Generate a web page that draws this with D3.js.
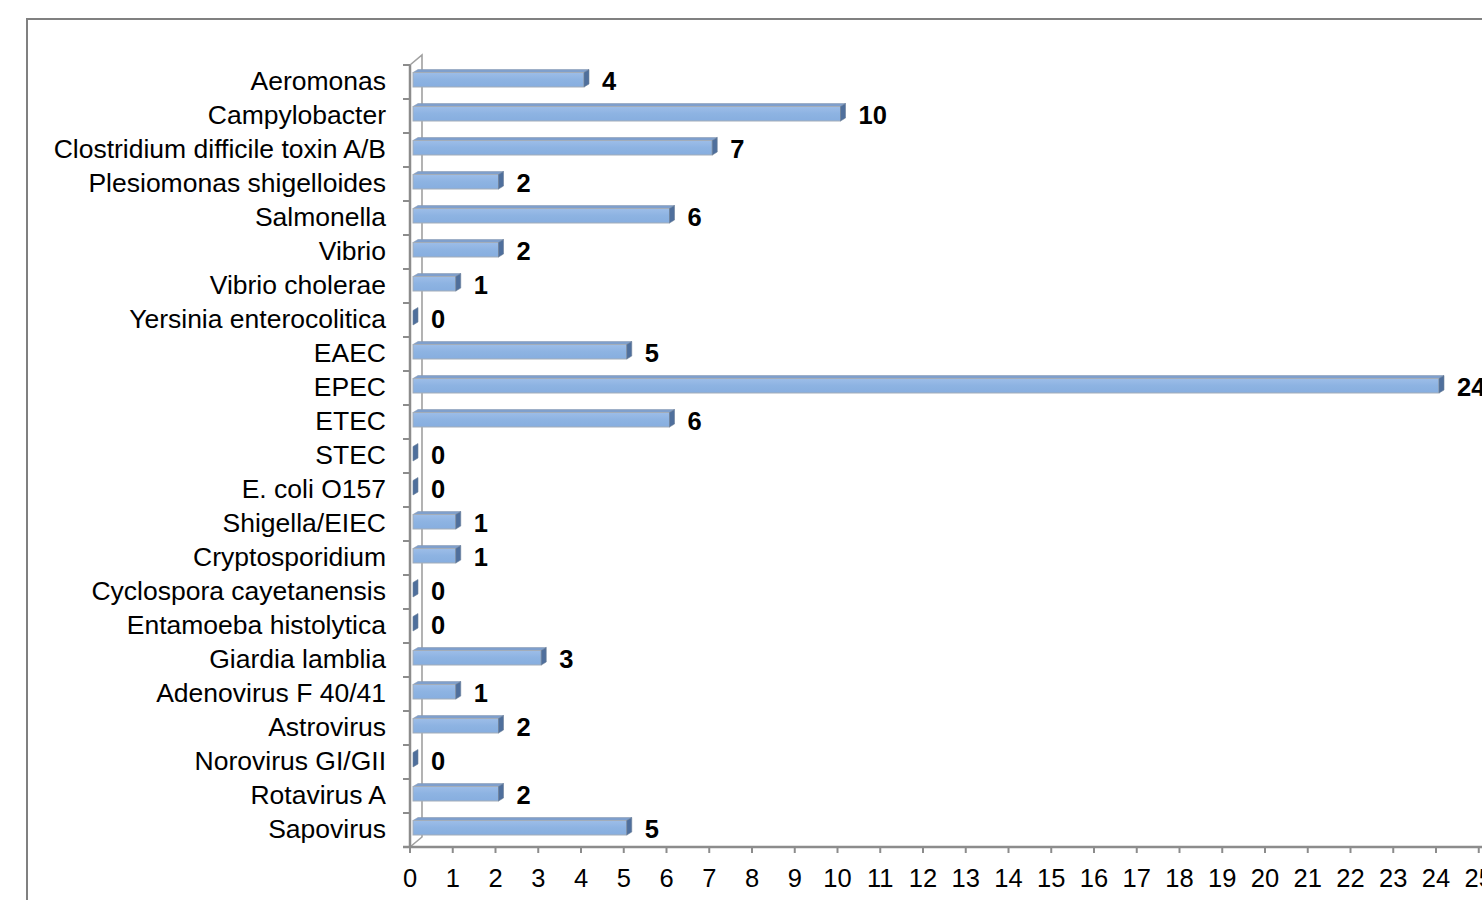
<!DOCTYPE html>
<html>
<head>
<meta charset="utf-8">
<script src="https://cdn.jsdelivr.net/npm/d3@7"></script>
<style>
  html, body { margin: 0; padding: 0; background: #fff; }
  svg { display: block; }
  text { font-family: "Liberation Sans", Arial, sans-serif; fill: #000; }
</style>
</head>
<body>
<svg id="chart" width="1482" height="900"></svg>
<script>
const categories = [
  "Aeromonas", "Campylobacter", "Clostridium difficile toxin A/B",
  "Plesiomonas shigelloides", "Salmonella", "Vibrio", "Vibrio cholerae",
  "Yersinia enterocolitica", "EAEC", "EPEC", "ETEC", "STEC", "E. coli O157",
  "Shigella/EIEC", "Cryptosporidium", "Cyclospora cayetanensis",
  "Entamoeba histolytica", "Giardia lamblia", "Adenovirus F 40/41",
  "Astrovirus", "Norovirus GI/GII", "Rotavirus A", "Sapovirus"
];
const values = [4, 10, 7, 2, 6, 2, 1, 0, 5, 24, 6, 0, 0, 1, 1, 0, 0, 3, 1, 2, 0, 2, 5];
const xTicks = d3.range(0, 26);

const svg = d3.select("#chart");
const W = 1482, H = 900;

// Outer frame (only top and left edges visible)
svg.append("path")
  .attr("d", `M27,${H} L27,19 L${W},19`)
  .attr("fill", "none").attr("stroke", "#808080").attr("stroke-width", 2);

const x = d3.scaleLinear().domain([0, 25]).range([410, 1478.75]);
const y = d3.scaleBand().domain(categories).range([65, 847]).padding(0);
const depthX = 12, depthY = 10;

const defs = svg.append("defs");
const grad = defs.append("linearGradient").attr("id", "barGrad")
  .attr("x1", 0).attr("y1", 0).attr("x2", 0).attr("y2", 1);
grad.append("stop").attr("offset", "0%").attr("stop-color", "#9dbde8");
grad.append("stop").attr("offset", "50%").attr("stop-color", "#8db3e2");
grad.append("stop").attr("offset", "100%").attr("stop-color", "#87aedf");

const axisColor = "#8c8c8c";
const x0 = x(0), yTop = y.range()[0], yBot = y.range()[1];

// Back wall vertical line and diagonals
svg.append("path")
  .attr("d", `M${x0},${yTop} L${x0 + depthX},${yTop - depthY} L${x0 + depthX},${yBot - depthY} L${x0},${yBot}`)
  .attr("fill", "none").attr("stroke", "#a0a0a0").attr("stroke-width", 1.6);

// Vertical axis (front)
svg.append("line")
  .attr("x1", x0).attr("x2", x0).attr("y1", yTop).attr("y2", yBot)
  .attr("stroke", axisColor).attr("stroke-width", 2.5);
// Category tick marks
const yBounds = categories.map(c => y(c)).concat([yBot]);
svg.append("g").selectAll("line").data(yBounds).join("line")
  .attr("x1", x0 - 7).attr("x2", x0).attr("y1", d => d).attr("y2", d => d)
  .attr("stroke", axisColor).attr("stroke-width", 2);

// Horizontal axis
svg.append("line")
  .attr("x1", x0 - 7).attr("x2", W).attr("y1", yBot).attr("y2", yBot)
  .attr("stroke", axisColor).attr("stroke-width", 2.5);
svg.append("g").selectAll("line").data(xTicks).join("line")
  .attr("x1", d => x(d)).attr("x2", d => x(d)).attr("y1", yBot).attr("y2", yBot + 6)
  .attr("stroke", axisColor).attr("stroke-width", 2);
svg.append("g").selectAll("text").data(xTicks).join("text")
  .attr("x", d => x(d)).attr("y", yBot + 31)
  .attr("text-anchor", "middle").attr("dominant-baseline", "central")
  .attr("font-size", 25.5).text(d => d);

// Category labels
svg.append("g").selectAll("text").data(categories).join("text")
  .attr("x", 386).attr("y", d => y(d) + 16)
  .attr("text-anchor", "end").attr("dominant-baseline", "central")
  .attr("font-size", 26.5).text(d => d);

// Bars (3D look)
const data = categories.map((c, i) => ({ c, v: values[i] }));
const off = 3, capW = 5, capH = 3;
const bars = svg.append("g").selectAll("g").data(data).join("g");
bars.each(function(d) {
  const g = d3.select(this);
  const bx0 = x(0) + off, bx1 = x(d.v) + off;
  const top = y(d.c) + 4.5 + capH, bot = y(d.c) + 22;
  if (d.v > 0) {
    // top face
    g.append("path")
      .attr("d", `M${bx0},${top} L${bx0 + capW},${top - capH} L${bx1 + capW},${top - capH} L${bx1},${top} Z`)
      .attr("fill", "#7f9fcc").attr("stroke", "#8a9bb3").attr("stroke-width", 0.6);
    // front face
    g.append("rect")
      .attr("x", bx0).attr("y", top).attr("width", bx1 - bx0).attr("height", bot - top)
      .attr("fill", "url(#barGrad)").attr("stroke", "#a3adb9").attr("stroke-width", 1);
  }
  // end cap
  g.append("path")
    .attr("d", `M${bx1},${top} L${bx1 + capW},${top - capH} L${bx1 + capW},${bot - capH} L${bx1},${bot} Z`)
    .attr("fill", "#4f6f9c").attr("stroke", "#6b7f99").attr("stroke-width", 0.6);
});

// Value labels
svg.append("g").selectAll("text").data(data).join("text")
  .attr("x", d => x(d.v) + off + 18).attr("y", d => y(d.c) + 16)
  .attr("dominant-baseline", "central")
  .attr("font-size", 25.5).attr("font-weight", "bold").text(d => d.v);
</script>
</body>
</html>
